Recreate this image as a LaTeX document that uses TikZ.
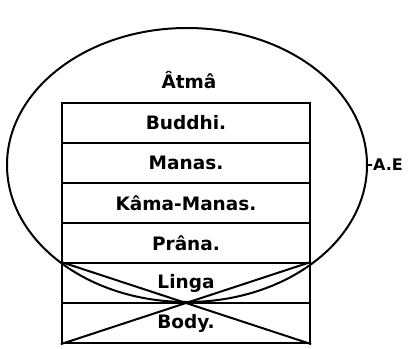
\documentclass[tikz,border=0pt]{standalone}
\usepackage{fontspec}
\newfontfamily\letterfont{DejaVu Sans}
\usepackage{tikz}
\usetikzlibrary{positioning, shapes.geometric}
\tikzset{
  row/.style  = {draw, rectangle, minimum width=248pt, minimum height=40pt,
                 inner sep=0pt, line width=2.2pt,
                 font=\letterfont\bfseries\fontsize{18.5}{18.5}\selectfont},
  aura/.style = {draw, ellipse, minimum width=360pt, minimum height=274pt,
                 inner sep=0pt, line width=2pt},
  lbl/.style  = {font=\letterfont\bfseries\fontsize{18.5}{18.5}\selectfont, inner sep=1pt},
  tag/.style  = {font=\letterfont\bfseries\fontsize{16}{16}\selectfont, inner sep=1pt},
  ln/.style   = {line width=2pt},
}
\begin{document}
\begin{tikzpicture}[x=1pt, y=-1pt]
  \useasboundingbox (0,0) rectangle (409,348);
  \node[aura] (egg) at (187,165) {};
  \node[lbl] (atma) at (189,80) {Âtmâ};
  \node[row] (buddhi) at (186,123) {Buddhi.};
  \node[row] (manas)  at (186,163) {Manas.};
  \node[row] (kama)   at (186,203) {Kâma-Manas.};
  \node[row] (prana)  at (186,243) {Prâna.};
  \node[row] (linga)  at (186,283) {Linga};
  \node[row] (body)   at (186,323) {Body.};
  \draw[ln] (linga.north west) -- (body.south east);
  \draw[ln] (linga.north east) -- (body.south west);
  \node[tag, right=4pt of egg.east] (ae) {A.E};
  \draw[ln] (egg.east) -- (ae.west);
\end{tikzpicture}
\end{document}
